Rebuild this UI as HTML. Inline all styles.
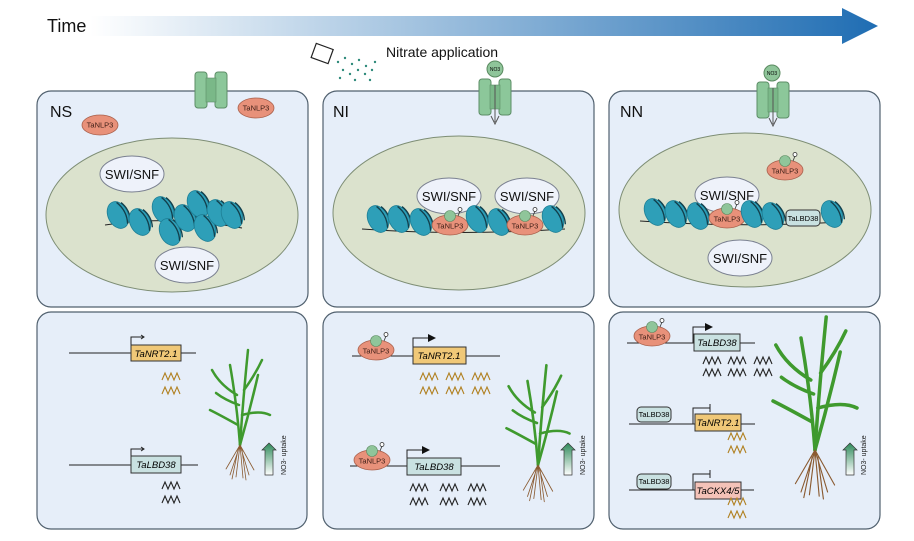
<!DOCTYPE html>
<html><head><meta charset="utf-8"><style>
html,body{margin:0;padding:0;background:#fff;width:914px;height:541px;overflow:hidden}
svg{display:block}
text{font-family:"Liberation Sans",sans-serif}
</style></head><body>
<svg width="914" height="541" viewBox="0 0 914 541" xmlns="http://www.w3.org/2000/svg">
<defs>
<linearGradient id="tg" x1="0" x2="1" y1="0" y2="0">
<stop offset="0" stop-color="#ffffff"/><stop offset="1" stop-color="#1f6db3"/></linearGradient>
<linearGradient id="ag" x1="0" x2="0" y1="0" y2="1">
<stop offset="0" stop-color="#2e8a5a"/><stop offset="1" stop-color="#ffffff"/></linearGradient>
<g id="nuc">
<ellipse cx="0" cy="0" rx="10" ry="14" fill="#2e9fb8" stroke="#1d7f96" stroke-width="0.8" transform="rotate(-25)"/>
<path d="M4 -12 Q10 0 5 12 M8 -10 Q13 0 9 10" fill="none" stroke="#123f4c" stroke-width="1.3" transform="rotate(-25)"/>
</g>
<g id="nlp">
<ellipse cx="0" cy="0" rx="18" ry="10" fill="#e8917a" stroke="#a8604c" stroke-width="0.8"/>
<text x="0" y="2.5" font-size="7.5" text-anchor="middle" fill="#402018">TaNLP3</text>
</g>
<g id="nlpn">
<ellipse cx="0" cy="0" rx="18" ry="10" fill="#e8917a" stroke="#a8604c" stroke-width="0.8"/>
<circle cx="0" cy="-9" r="5.5" fill="#8fc59a" stroke="#5a8a60" stroke-width="0.6"/>
<line x1="8" y1="-9" x2="10" y2="-14" stroke="#333" stroke-width="0.8"/>
<circle cx="10" cy="-15.5" r="2" fill="#fff" stroke="#333" stroke-width="0.8"/>
<text x="0" y="3.5" font-size="7.5" text-anchor="middle" fill="#402018">TaNLP3</text>
</g>
<path id="w" d="M0 0 l3 -7 l3 7 l3 -7 l3 7 l3 -7 l3 7" fill="none" stroke-width="1.1"/>
<g id="chan">
<rect x="-16" y="-18" width="12" height="36" rx="3" fill="#8cc79a" stroke="#5c8d66"/>
<rect x="4" y="-18" width="12" height="36" rx="3" fill="#8cc79a" stroke="#5c8d66"/>
<rect x="-5" y="-12" width="10" height="24" fill="#7ab888" stroke="#5c8d66" stroke-width="0.6"/>
</g>
<g id="plant" fill="none" stroke-linecap="round">
<g stroke="#3f9a2e" stroke-width="2.5">
<path d="M0 0 Q-3 -40 -10 -80"/><path d="M0 0 Q3 -45 8 -95"/><path d="M0 0 Q10 -35 18 -70"/>
<path d="M-2 -20 Q-20 -30 -30 -35"/><path d="M2 -30 Q20 -35 30 -30"/><path d="M-3 -50 Q-20 -60 -28 -75"/>
<path d="M4 -55 Q15 -70 22 -85"/><path d="M-1 -40 Q-15 -45 -24 -52"/>
</g>
<g stroke="#8a5a30" stroke-width="0.8">
<path d="M0 0 L-10 30 M0 0 L-4 32 M0 0 L3 33 M0 0 L9 30 M0 0 L14 25 M0 0 L-14 24 M-2 5 L-8 34 M2 5 L6 35"/>
</g>
</g>
</defs>

<path d="M90 16 H842 V8 L878 26 L842 44 V36 H90 Z" fill="url(#tg)"/>
<text x="47" y="32" font-size="18" fill="#111">Time</text>

<g transform="translate(322,54) rotate(20)"><rect x="-9" y="-8" width="18" height="15" fill="#fff" stroke="#222" stroke-width="1.2"/></g>
<g fill="#2e8a7a">
<circle cx="338" cy="62" r="1.2"/><circle cx="345" cy="58" r="1.2"/><circle cx="352" cy="64" r="1.2"/><circle cx="359" cy="60" r="1.2"/><circle cx="366" cy="66" r="1.2"/><circle cx="343" cy="70" r="1.2"/><circle cx="350" cy="74" r="1.2"/><circle cx="358" cy="70" r="1.2"/><circle cx="365" cy="74" r="1.2"/><circle cx="372" cy="70" r="1.2"/><circle cx="340" cy="78" r="1.2"/><circle cx="355" cy="80" r="1.2"/><circle cx="370" cy="80" r="1.2"/><circle cx="375" cy="62" r="1.2"/>
</g>
<text x="386" y="57" font-size="14" fill="#111">Nitrate application</text>

<g fill="#e6eef9" stroke="#50606e" stroke-width="1.2">
<rect x="37" y="91" width="271" height="216" rx="14"/>
<rect x="323" y="91" width="271" height="216" rx="14"/>
<rect x="609" y="91" width="271" height="216" rx="14"/>
<rect x="37" y="312" width="270" height="217" rx="14"/>
<rect x="323" y="312" width="271" height="217" rx="14"/>
<rect x="609" y="312" width="271" height="217" rx="14"/>
</g>

<use href="#chan" transform="translate(211,90)"/>
<use href="#chan" transform="translate(495,97)"/>
<use href="#chan" transform="translate(773,100)"/>
<circle cx="495" cy="69" r="8" fill="#8fc59a" stroke="#5a8a60"/><text x="495" y="71" font-size="5" text-anchor="middle">NO3</text>
<circle cx="772" cy="73" r="8" fill="#8fc59a" stroke="#5a8a60"/><text x="772" y="75" font-size="5" text-anchor="middle">NO3</text>
<path d="M495 85 V122 M491 116 L495 124 L499 116" stroke="#555" fill="none"/>
<path d="M773 88 V124 M769 118 L773 126 L777 118" stroke="#555" fill="none"/>

<text x="50" y="117" font-size="16" fill="#111">NS</text>
<text x="333" y="117" font-size="16" fill="#111">NI</text>
<text x="620" y="117" font-size="16" fill="#111">NN</text>

<g fill="#dbe2cd" stroke="#7d8d74" stroke-width="1">
<ellipse cx="172" cy="215" rx="126" ry="77"/>
<ellipse cx="459" cy="213" rx="126" ry="77"/>
<ellipse cx="745" cy="210" rx="126" ry="77"/>
</g>
<use href="#nlp" transform="translate(100,125)"/>
<use href="#nlp" transform="translate(256,108)"/>

<g fill="#eef2fa" stroke="#7a8090">
<ellipse cx="132" cy="174" rx="32" ry="18"/><ellipse cx="187" cy="265" rx="32" ry="18"/>
<ellipse cx="449" cy="196" rx="32" ry="18"/><ellipse cx="527" cy="196" rx="32" ry="18"/>
<ellipse cx="727" cy="195" rx="32" ry="18"/><ellipse cx="740" cy="258" rx="32" ry="18"/>
</g>
<g font-size="13" text-anchor="middle" fill="#111">
<text x="132" y="179">SWI/SNF</text><text x="187" y="270">SWI/SNF</text>
<text x="449" y="201">SWI/SNF</text><text x="527" y="201">SWI/SNF</text>
<text x="727" y="200">SWI/SNF</text><text x="740" y="263">SWI/SNF</text>
</g>
<path d="M105 225 Q170 215 242 228" fill="none" stroke="#222"/>
<g>
<use href="#nuc" transform="translate(118,215)"/><use href="#nuc" transform="translate(140,222)"/><use href="#nuc" transform="translate(163,210)"/><use href="#nuc" transform="translate(170,232)"/><use href="#nuc" transform="translate(185,218)"/><use href="#nuc" transform="translate(198,204)"/><use href="#nuc" transform="translate(205,228)"/><use href="#nuc" transform="translate(218,213)"/><use href="#nuc" transform="translate(232,215)"/>
</g>
<path d="M362 229 Q460 236 565 229" fill="none" stroke="#222"/>
<use href="#nuc" transform="translate(378,219)"/><use href="#nuc" transform="translate(399,219)"/><use href="#nuc" transform="translate(421,222)"/>
<use href="#nlpn" transform="translate(450,225)"/>
<use href="#nuc" transform="translate(477,219)"/><use href="#nuc" transform="translate(499,222)"/>
<use href="#nlpn" transform="translate(525,225)"/>
<use href="#nuc" transform="translate(553,219)"/>
<path d="M640 221 Q740 228 840 222" fill="none" stroke="#222"/>
<use href="#nuc" transform="translate(655,212)"/><use href="#nuc" transform="translate(676,214)"/><use href="#nuc" transform="translate(698,216)"/>
<use href="#nlpn" transform="translate(727,218)"/>
<use href="#nuc" transform="translate(752,214)"/><use href="#nuc" transform="translate(773,216)"/>
<rect x="786" y="210" width="34" height="16" rx="4" fill="#c9e1e1" stroke="#333"/><text x="803" y="221" font-size="7.5" text-anchor="middle">TaLBD38</text>
<use href="#nuc" transform="translate(832,214)"/>
<use href="#nlpn" transform="translate(785,170)"/>

<g stroke="#222" fill="none" stroke-width="1">
<path d="M69 353 H196"/><path d="M131 353 V337 H144 M141 335 L144 337 L141 339"/>
<path d="M69 465 H198"/><path d="M131 465 V449 H144 M141 447 L144 449 L141 451"/>
</g>
<rect x="131" y="345" width="50" height="16" fill="#f0c878" stroke="#333"/><text x="156" y="357" font-size="9.5" font-style="italic" text-anchor="middle">TaNRT2.1</text>
<rect x="131" y="456" width="50" height="17" fill="#c9e1e1" stroke="#333"/><text x="156" y="468" font-size="9.5" font-style="italic" text-anchor="middle">TaLBD38</text>
<use href="#w" stroke="#b08020" transform="translate(162,380)"/><use href="#w" stroke="#b08020" transform="translate(162,394)"/>
<use href="#w" stroke="#222" transform="translate(162,489)"/><use href="#w" stroke="#222" transform="translate(162,503)"/>
<use href="#plant" transform="translate(240,445)"/>
<path d="M265 475 V450 h-3 l7 -7 l7 7 h-3 V475 Z" fill="url(#ag)" stroke="#333" stroke-width="0.7"/>
<text transform="translate(286,475) rotate(-90)" font-size="7" fill="#222">NO3- uptake</text>

<g stroke="#222" fill="none" stroke-width="1">
<path d="M352 356 H500"/><path d="M413 356 V338 H430"/>
<path d="M350 466 H500"/><path d="M407 466 V450 H424"/>
</g>
<path d="M428 334 L436 338 L428 342 Z" fill="#111"/><path d="M422 446 L430 450 L422 454 Z" fill="#111"/>
<use href="#nlpn" transform="translate(376,350)"/>
<use href="#nlpn" transform="translate(372,460)"/>
<rect x="413" y="347" width="53" height="17" fill="#f0c878" stroke="#333"/><text x="439" y="359" font-size="9.5" font-style="italic" text-anchor="middle">TaNRT2.1</text>
<rect x="407" y="458" width="54" height="17" fill="#c9e1e1" stroke="#333"/><text x="434" y="470" font-size="9.5" font-style="italic" text-anchor="middle">TaLBD38</text>
<g stroke="#b08020"><use href="#w" transform="translate(420,380)"/><use href="#w" transform="translate(446,380)"/><use href="#w" transform="translate(472,380)"/>
<use href="#w" transform="translate(420,394)"/><use href="#w" transform="translate(446,394)"/><use href="#w" transform="translate(472,394)"/></g>
<g stroke="#222"><use href="#w" transform="translate(410,491)"/><use href="#w" transform="translate(440,491)"/><use href="#w" transform="translate(468,491)"/>
<use href="#w" transform="translate(410,505)"/><use href="#w" transform="translate(440,505)"/><use href="#w" transform="translate(468,505)"/></g>
<use href="#plant" transform="translate(538,465) scale(1.05)"/>
<path d="M564 475 V450 h-3 l7 -7 l7 7 h-3 V475 Z" fill="url(#ag)" stroke="#333" stroke-width="0.7"/>
<text transform="translate(585,475) rotate(-90)" font-size="7" fill="#222">NO3- uptake</text>

<g stroke="#222" fill="none" stroke-width="1">
<path d="M627 343 H755"/><path d="M693 343 V327 H707"/>
<path d="M629 424 H755"/><path d="M693 424 V408 H710 M710 404 V412"/>
<path d="M629 490 H754"/><path d="M693 490 V474 H710 M710 470 V478"/>
</g>
<path d="M705 323 L713 327 L705 331 Z" fill="#111"/>
<use href="#nlpn" transform="translate(652,336)"/>
<rect x="694" y="334" width="46" height="17" fill="#c9e1e1" stroke="#333"/><text x="717" y="346" font-size="9.5" font-style="italic" text-anchor="middle">TaLBD38</text>
<rect x="637" y="407" width="34" height="15" rx="4" fill="#c9e1e1" stroke="#333"/><text x="654" y="417" font-size="7.5" text-anchor="middle">TaLBD38</text>
<rect x="695" y="414" width="46" height="17" fill="#f0c878" stroke="#333"/><text x="718" y="426" font-size="9.5" font-style="italic" text-anchor="middle">TaNRT2.1</text>
<rect x="637" y="474" width="34" height="15" rx="4" fill="#c9e1e1" stroke="#333"/><text x="654" y="484" font-size="7.5" text-anchor="middle">TaLBD38</text>
<rect x="695" y="482" width="46" height="17" fill="#f4c2b8" stroke="#333"/><text x="718" y="494" font-size="9.5" font-style="italic" text-anchor="middle">TaCKX4/5</text>
<g stroke="#222"><use href="#w" transform="translate(703,364)"/><use href="#w" transform="translate(728,364)"/><use href="#w" transform="translate(754,364)"/>
<use href="#w" transform="translate(703,376)"/><use href="#w" transform="translate(728,376)"/><use href="#w" transform="translate(754,376)"/></g>
<g stroke="#b08020"><use href="#w" transform="translate(728,440)"/><use href="#w" transform="translate(728,453)"/>
<use href="#w" transform="translate(728,505)"/><use href="#w" transform="translate(728,518)"/></g>
<use href="#plant" transform="translate(815,450) scale(1.4)"/>
<path d="M846 475 V450 h-3 l7 -7 l7 7 h-3 V475 Z" fill="url(#ag)" stroke="#333" stroke-width="0.7"/>
<text transform="translate(866,475) rotate(-90)" font-size="7" fill="#222">NO3- uptake</text>
</svg>
</body></html>
